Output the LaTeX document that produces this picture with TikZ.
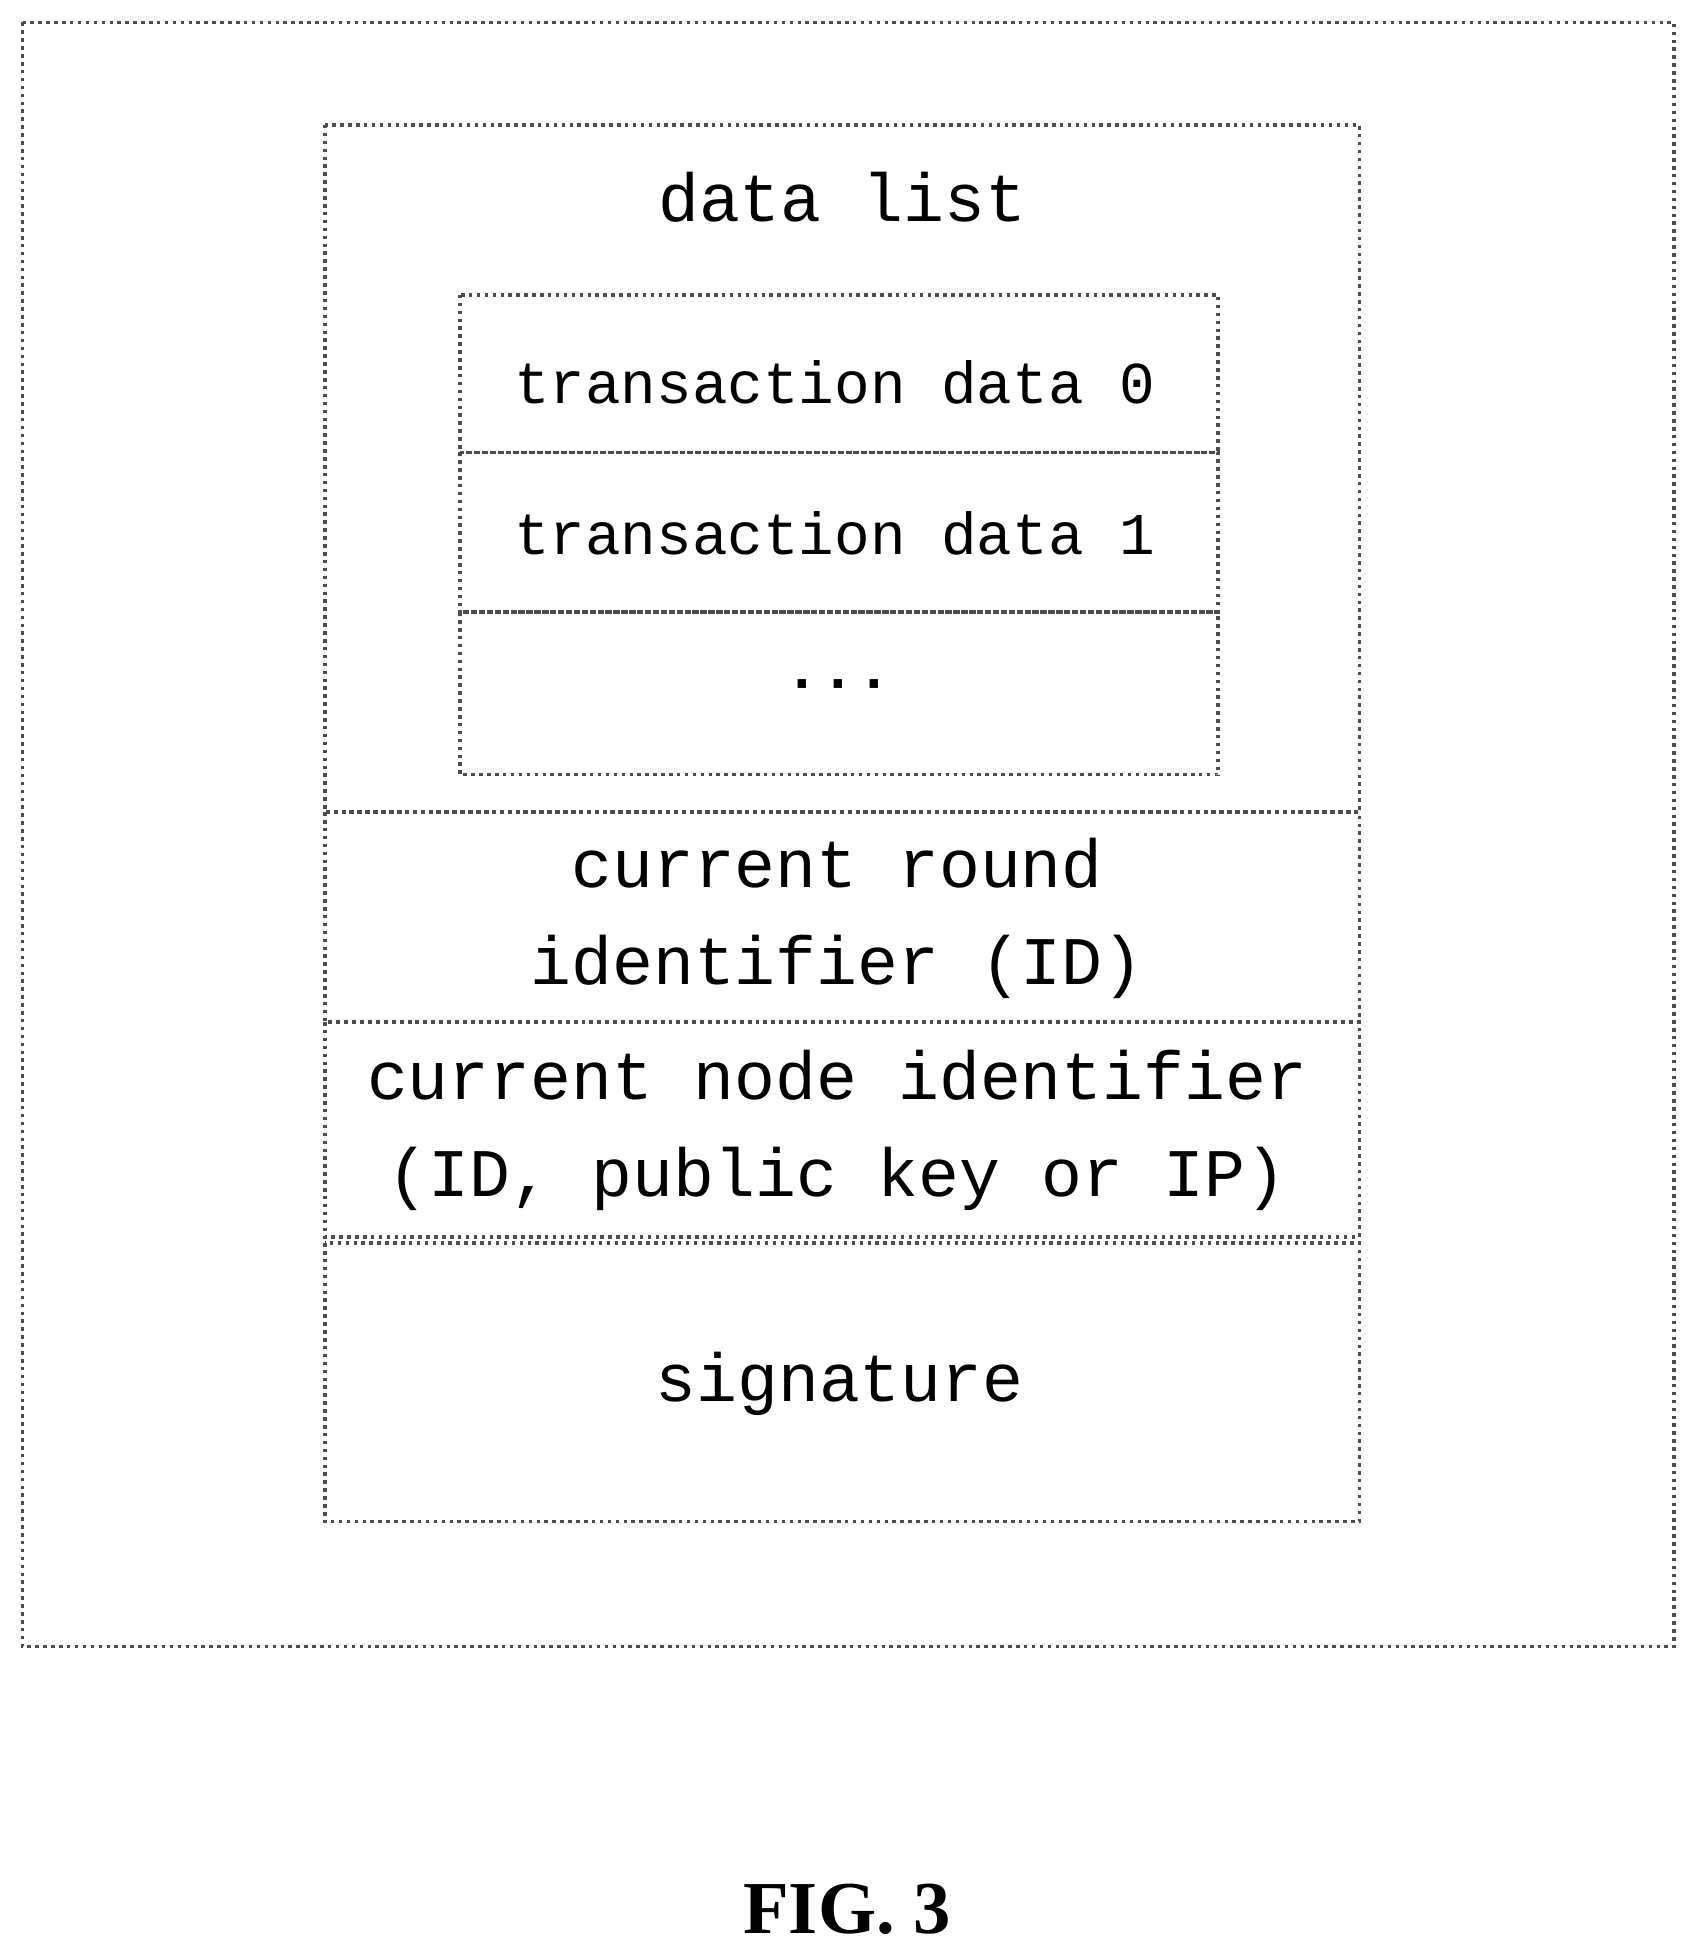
\documentclass[tikz,border=0pt]{standalone}
\usepackage{fontspec}
\setmainfont{Liberation Serif}
\setmonofont{Liberation Mono}
\usetikzlibrary{positioning}
\tikzset{
  frame/.style={draw=black!70, densely dotted, line width=0.8pt, inner sep=0pt},
  field/.style={font=\ttfamily\fontsize{15.5}{22}\selectfont, align=center},
  txfield/.style={font=\ttfamily\fontsize{13.5}{18}\selectfont, align=center}
}
\begin{document}
\begin{tikzpicture}[x=0.01cm, y=-0.01cm]
    \useasboundingbox (0,0) rectangle (1356,1560);
    % outer frame
    \draw[frame] (18,18) rectangle (1340,1318);
    % block
    \draw[frame] (260,100) rectangle (1088,650);
    \node[field] (title) at (674,158) {data list};
    % transaction list
    \draw[frame] (368,236) rectangle (975,362);
    \draw[frame] (368,362) rectangle (975,490);
    \draw[frame] (368,490) rectangle (975,620);
    \node[txfield] (tx0) at (668,306) {transaction data 0};
    \node[txfield] (tx1) at (668,427) {transaction data 1};
    \node[txfield] (txn) at (671,552) {\textbf{\textperiodcentered\textperiodcentered\textperiodcentered}};
    % header fields
    \draw[frame] (260,650) rectangle (1088,818);
    \node[field] (round) at (670,735) {current round\\identifier (ID)};
    \draw[frame] (260,818) rectangle (1088,990);
    \node[field] (node) at (670,905) {current node identifier\\(ID, public key or IP)};
    \draw[frame] (260,995) rectangle (1088,1218);
    \node[field] (sig) at (672,1108) {signature};
    % caption
    \node[font=\bfseries\fontsize{17}{20}\selectfont] (cap) at (678,1528) {FIG. 3};
\end{tikzpicture}
\end{document}
